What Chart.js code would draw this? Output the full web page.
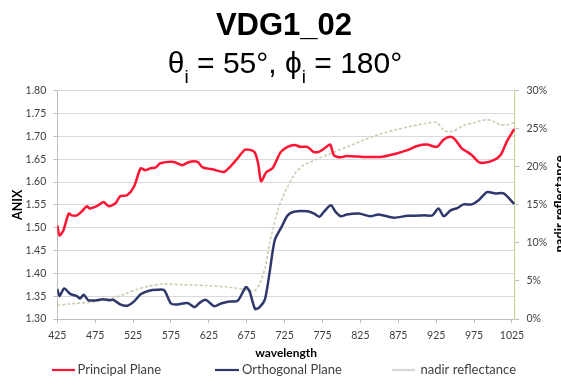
<!DOCTYPE html>
<html>
<head>
<meta charset="utf-8">
<script src="https://cdn.jsdelivr.net/npm/chart.js@4.4.0/dist/chart.umd.min.js"></script>
<style>
html,body{margin:0;padding:0;background:#ffffff;}
#wrap{width:561px;height:381px;position:relative;overflow:hidden;}
canvas{display:block;}
</style>
</head>
<body>
<div id="wrap"><canvas id="c" width="561" height="381"></canvas></div>
<script>
// ---------- chart text ----------
const chartTitle = 'VDG1_02';
const subtitleParts = [['θ', false], ['i', true], [' = 55°, ', false], ['ϕ', false], ['i', true], [' = 180°', false]];
const xTitle = 'wavelength';
const leftTitle = 'ANIX';
const rightTitle = 'nadir reflectance';
const seriesNames = ['Principal Plane', 'Orthogonal Plane', 'nadir reflectance'];

// ---------- tick labels ----------
const xTicks = [425, 475, 525, 575, 625, 675, 725, 775, 825, 875, 925, 975, 1025];
const leftTicks = [1.30, 1.35, 1.40, 1.45, 1.50, 1.55, 1.60, 1.65, 1.70, 1.75, 1.80];
const rightTicks = [0, 5, 10, 15, 20, 25, 30];

// ---------- Principal Plane (ANIX) ----------
const principalWl = [425, 428, 433, 440, 444, 451, 457, 464, 468, 477, 486, 493, 502, 508, 517, 526, 535, 541, 548, 555, 561, 579, 590, 599, 610, 617, 632, 645, 654, 663, 673, 685, 690, 694, 701, 709, 720, 729, 738, 746, 755, 763, 770, 777, 785, 790, 799, 807, 829, 851, 869, 887, 900, 913, 926, 935, 944, 950, 959, 966, 972, 981, 988, 1001, 1010, 1018, 1028];
const principalVal = [1.505, 1.483, 1.494, 1.531, 1.527, 1.527, 1.535, 1.547, 1.542, 1.547, 1.556, 1.547, 1.554, 1.569, 1.571, 1.589, 1.630, 1.626, 1.630, 1.632, 1.641, 1.644, 1.637, 1.644, 1.644, 1.632, 1.627, 1.622, 1.635, 1.652, 1.671, 1.666, 1.641, 1.602, 1.622, 1.630, 1.666, 1.677, 1.681, 1.677, 1.677, 1.666, 1.666, 1.673, 1.682, 1.659, 1.654, 1.657, 1.655, 1.655, 1.661, 1.670, 1.679, 1.682, 1.677, 1.693, 1.699, 1.693, 1.673, 1.666, 1.659, 1.644, 1.642, 1.648, 1.659, 1.688, 1.716];

// ---------- Orthogonal Plane (ANIX) ----------
const orthoWl = [425, 428, 434, 442, 451, 455, 460, 466, 477, 486, 493, 499, 508, 517, 526, 535, 546, 557, 566, 575, 583, 597, 606, 614, 621, 632, 641, 650, 663, 674, 679, 686, 692, 699, 705, 712, 721, 729, 737, 755, 764, 771, 777, 786, 792, 799, 807, 823, 838, 849, 869, 887, 909, 920, 928, 935, 944, 953, 961, 972, 981, 992, 1003, 1014, 1028];
const orthoVal = [1.366, 1.350, 1.367, 1.355, 1.350, 1.345, 1.353, 1.341, 1.341, 1.343, 1.341, 1.342, 1.332, 1.329, 1.338, 1.354, 1.362, 1.364, 1.363, 1.334, 1.332, 1.335, 1.326, 1.337, 1.342, 1.328, 1.334, 1.338, 1.340, 1.370, 1.359, 1.322, 1.326, 1.343, 1.400, 1.473, 1.502, 1.527, 1.535, 1.536, 1.531, 1.524, 1.535, 1.549, 1.535, 1.525, 1.529, 1.531, 1.525, 1.529, 1.522, 1.526, 1.527, 1.527, 1.542, 1.525, 1.538, 1.543, 1.551, 1.551, 1.560, 1.578, 1.575, 1.575, 1.552];

// ---------- nadir reflectance (%) ----------
const nadirWl = [425, 445, 475, 500, 515, 530, 545, 565, 590, 620, 650, 670, 685, 692, 700, 705, 710, 716, 722, 730, 740, 750, 765, 787, 807, 829, 851, 873, 895, 917, 926, 935, 940, 948, 961, 975, 992, 1001, 1010, 1018, 1028];
const nadirVal = [1.8, 2.0, 2.3, 2.8, 3.3, 3.9, 4.3, 4.6, 4.5, 4.4, 4.2, 3.9, 3.7, 4.6, 7.0, 9.9, 12.0, 14.3, 15.9, 17.6, 19.3, 20.2, 20.9, 21.8, 22.6, 23.5, 24.3, 24.9, 25.4, 25.8, 25.8, 24.8, 24.6, 24.7, 25.4, 25.8, 26.2, 25.9, 25.5, 25.5, 25.8];

const toPoints = (xs, ys) => xs.map((x, i) => ({x: x, y: ys[i]}));

const COL_RED = 'rgb(255,20,52)';
const COL_NAVY = 'rgb(46,56,108)';
const COL_NADIR = 'rgb(200,206,176)';
const COL_NADIR_LEG = 'rgb(215,215,215)';
const COL_AXIS = '#bfbfbf';
const COL_GRID = '#d9d9d9';
const COL_TEXT = '#404040';

const SANS = 'Lato, "Open Sans", sans-serif';
const ARIAL = '"Liberation Sans", Arial, sans-serif';

const decorPlugin = {
  id: 'decor',
  afterDraw(chart) {
    const ctx = chart.ctx;
    ctx.save();
    // main title
    ctx.fillStyle = '#000';
    ctx.textAlign = 'center';
    ctx.textBaseline = 'alphabetic';
    ctx.font = 'bold 31px ' + ARIAL;
    ctx.fillText(chartTitle, 284, 35);
    // subtitle with subscripts
    const mainFont = '30px ' + ARIAL;
    const subFont = '19px ' + ARIAL;
    let total = 0;
    subtitleParts.forEach(p => { ctx.font = p[1] ? subFont : mainFont; total += ctx.measureText(p[0]).width; });
    let x = 285 - total / 2;
    ctx.textAlign = 'left';
    subtitleParts.forEach(p => {
      ctx.font = p[1] ? subFont : mainFont;
      ctx.fillText(p[0], x, p[1] ? 83 : 73.3);
      x += ctx.measureText(p[0]).width;
    });
    // right axis title (rotated, reads bottom to top), partly cut by the edge
    ctx.save();
    ctx.translate(560, 204);
    ctx.rotate(-Math.PI / 2);
    ctx.font = 'bold 13px ' + SANS;
    ctx.fillStyle = '#000';
    ctx.textAlign = 'center';
    ctx.textBaseline = 'middle';
    ctx.fillText(rightTitle, 0, 0);
    ctx.restore();
    // legend
    const legendY = 370;
    const items = [
      {name: seriesNames[0], color: COL_RED, x0: 52, x1: 75, tx: 77.5},
      {name: seriesNames[1], color: COL_NAVY, x0: 215, x1: 239, tx: 242},
      {name: seriesNames[2], color: COL_NADIR_LEG, x0: 392, x1: 415, tx: 420.5}
    ];
    ctx.font = '13px ' + SANS;
    ctx.textBaseline = 'middle';
    ctx.textAlign = 'left';
    items.forEach(it => {
      ctx.strokeStyle = it.color;
      ctx.lineWidth = 2.2;
      ctx.beginPath();
      ctx.moveTo(it.x0, legendY);
      ctx.lineTo(it.x1, legendY);
      ctx.stroke();
      ctx.fillStyle = COL_TEXT;
      ctx.fillText(it.name, it.tx, legendY);
    });
    ctx.restore();
  }
};

new Chart(document.getElementById('c'), {
  type: 'line',
  data: {
    datasets: [
      {label: seriesNames[0], data: toPoints(principalWl, principalVal), yAxisID: 'y',
       borderColor: COL_RED, borderWidth: 2.5, pointRadius: 0, tension: 0.25, fill: false},
      {label: seriesNames[1], data: toPoints(orthoWl, orthoVal), yAxisID: 'y',
       borderColor: COL_NAVY, borderWidth: 2.5, pointRadius: 0, tension: 0.25, fill: false},
      {label: seriesNames[2], data: toPoints(nadirWl, nadirVal), yAxisID: 'y1',
       borderColor: COL_NADIR, borderWidth: 1.6, borderDash: [3, 2], pointRadius: 0, tension: 0.25, fill: false}
    ]
  },
  options: {
    responsive: false,
    animation: false,
    devicePixelRatio: 1,
    layout: {padding: {top: 90.7, left: 0, right: 0, bottom: 0}},
    plugins: {legend: {display: false}, title: {display: false}, tooltip: {enabled: false}},
    scales: {
      x: {
        type: 'linear', position: 'bottom', min: 425, max: 1029,
        afterBuildTicks: s => { s.ticks = xTicks.map(v => ({value: v})); },
        afterFit: s => { s.height = 62; },
        ticks: {font: {family: SANS, size: 10.5}, color: COL_TEXT, padding: 6, maxRotation: 0, autoSkip: false, callback: v => String(v)},
        grid: {drawOnChartArea: false, drawTicks: true, tickLength: 4, color: COL_AXIS},
        border: {color: COL_AXIS, width: 1},
        title: {display: true, text: xTitle, font: {family: SANS, size: 12, weight: 'bold'}, color: '#000', padding: {top: 0, bottom: 20.8}}
      },
      y: {
        type: 'linear', position: 'left', min: 1.30, max: 1.80,
        afterBuildTicks: s => { s.ticks = leftTicks.map(v => ({value: v})); },
        afterFit: s => { s.width = 57.3; },
        ticks: {font: {family: SANS, size: 10.5}, color: COL_TEXT, padding: 7, callback: v => Number(v).toFixed(2)},
        grid: {color: COL_GRID, tickColor: COL_AXIS, drawTicks: true, tickLength: 4, lineWidth: 1},
        border: {color: COL_AXIS, width: 1},
        title: {display: true, text: leftTitle, font: {family: SANS, size: 12.5, weight: 'bold'}, color: '#000', padding: {top: 10, bottom: 0}}
      },
      y1: {
        type: 'linear', position: 'right', min: 0, max: 30,
        afterBuildTicks: s => { s.ticks = rightTicks.map(v => ({value: v})); },
        afterFit: s => { s.width = 46; },
        ticks: {font: {family: SANS, size: 10.5}, color: COL_TEXT, padding: 7.5, callback: v => v + '%'},
        grid: {drawOnChartArea: false, drawTicks: true, tickLength: 4, color: COL_AXIS},
        border: {color: 'rgb(200,214,160)', width: 1.2}
      }
    }
  },
  plugins: [decorPlugin]
});
</script>
</body>
</html>
